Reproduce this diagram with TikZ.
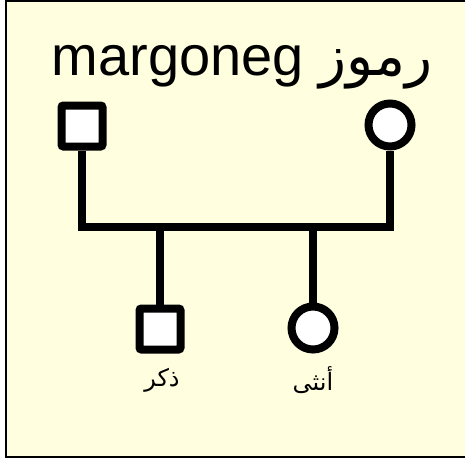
\documentclass[tikz,border=0pt]{standalone}
\usepackage{fontspec}
\setmainfont{Liberation Sans}
\newfontfamily\arabicfont[Script=Arabic]{DejaVu Sans}
\TeXXeTstate=1
\definecolor{paleyellow}{HTML}{FFFFE0}

\begin{document}
\begin{tikzpicture}[x=1pt, y=-1pt,
    male/.style={draw, fill=white, line width=8pt, rectangle, rounded corners=2pt,
        minimum size=41pt, inner sep=0pt},
    female/.style={draw, fill=white, line width=8pt, circle,
        minimum size=43pt, inner sep=0pt},
    link/.style={line width=7.5pt},
    kidlabel/.style={font=\arabicfont\fontsize{24}{28}\selectfont}]
    \useasboundingbox (0,0) rectangle (465,460);
    \clip (0,0) rectangle (465,460);

    % background frame
    \draw[fill=paleyellow, line width=2.5pt] (6,1) rectangle (475,457);

    % title
    \node[anchor=base, font=\fontsize{56}{62}\selectfont] (title) at (242,75)
        {margoneg {\arabicfont\beginR رموز\endR}};

    % parents
    \node[male] (father) at (82,126) {};
    \node[female] (mother) at (390,125) {};
    \coordinate (bar) at (236,227);
    \draw[link] (father) |- (bar) -| (mother);

    % children
    \node[male] (son) at (160,329) {};
    \node[female] (daughter) at (313,328) {};
    \draw[link] (son |- bar) -- (son);
    \draw[link] (daughter |- bar) -- (daughter);

    % labels under the children
    \node[kidlabel] (sonlabel) at (162,380) {\beginR ذكر\endR};
    \node[kidlabel] (daughterlabel) at (313,380) {\beginR أنثى\endR};

\end{tikzpicture}
\end{document}
